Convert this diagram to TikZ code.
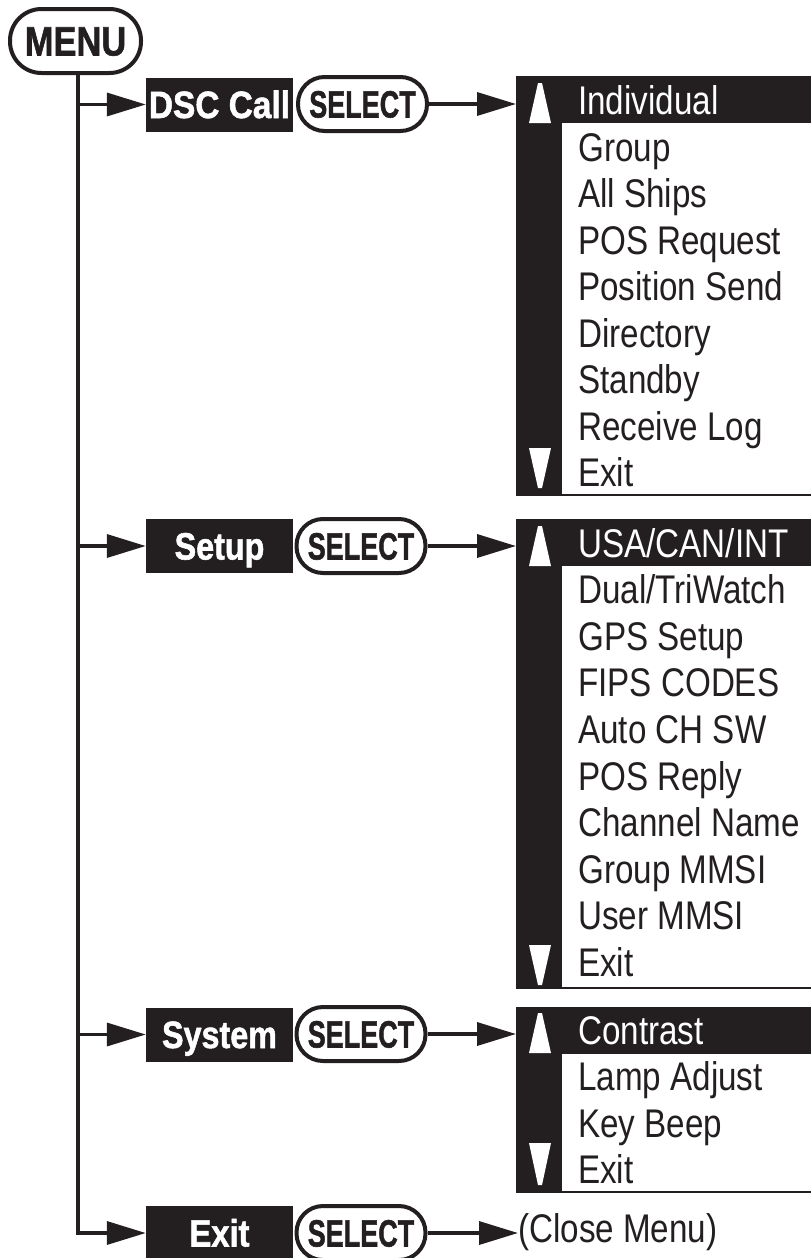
\documentclass[tikz,border=0pt]{standalone}
\usepackage{graphicx}
\usepackage{fontspec}
\setmainfont[FakeStretch=0.83]{Liberation Sans}
\newfontfamily\lblfont[BoldFeatures={FakeBold=1.5}]{Liberation Sans}
\usetikzlibrary{arrows.meta}
\definecolor{ink}{HTML}{231F20}
\begin{document}
\begin{tikzpicture}[x=1pt,y=-1pt,
  conn/.style={draw=ink,line width=3.5pt,-{Triangle[length=39pt,width=23pt]}},
  pill/.style={draw=ink,line width=4pt,fill=white,rounded corners=26.5pt,minimum width=129pt,minimum height=54pt,inner sep=0pt,text=ink,text height=27pt,text depth=0pt,font=\lblfont\bfseries\fontsize{38}{38}\selectfont},
  lbl/.style={fill=ink,text=white,minimum width=147pt,minimum height=54pt,inner sep=0pt,text height=27pt,text depth=0pt,font=\lblfont\bfseries\fontsize{38}{38}\selectfont},
  item/.style={anchor=base west,inner sep=0pt,text=ink,font=\fontsize{40}{40}\selectfont},
  hitem/.style={item,text=white},
  band/.style={fill=ink,inner sep=0pt,anchor=north west,minimum width=295pt,minimum height=47pt},
  col/.style={fill=ink},
  rule/.style={draw=ink,line width=2pt},
  tri/.style={fill=white}
]
\useasboundingbox (0,0) rectangle (811,1258);

% MENU pill
\node[pill,minimum width=131pt,minimum height=64pt,rounded corners=31.5pt,text height=29pt,font=\lblfont\bfseries\fontsize{41}{41}\selectfont] (menu) at (75.5,41) {\scalebox{0.84}[1]{MENU}};
\coordinate (trunk) at ([xshift=2.5pt]menu.south);

% left labels
\node[lbl] (dsclbl) at (219.5,104.5) {\scalebox{0.88}[1]{DSC Call}};
\node[lbl] (setlbl) at (219.5,546) {\scalebox{0.85}[1]{Setup}};
\node[lbl] (syslbl) at (219.5,1034.5) {\scalebox{0.85}[1]{System}};
\node[lbl] (exlbl) at (219.5,1233) {\scalebox{0.86}[1]{Exit}};

% select pills
\node[pill] (dscsel) at (362.5,104) {\scalebox{0.71}[1]{SELECT}};
\node[pill] (setsel) at (361,546) {\scalebox{0.71}[1]{SELECT}};
\node[pill] (syssel) at (361,1034) {\scalebox{0.71}[1]{SELECT}};
\node[pill] (exsel) at (361,1233) {\scalebox{0.71}[1]{SELECT}};

% trunk and branches
\draw[conn,line join=miter] (trunk) -- (trunk |- exlbl.west) -- (exlbl.west);
\draw[conn] (trunk |- dsclbl.west) -- (dsclbl.west);
\draw[conn] (trunk |- setlbl.west) -- (setlbl.west);
\draw[conn] (trunk |- syslbl.west) -- (syslbl.west);

% ---------- DSC list ----------
\fill[col] (516,76) rectangle (562,496);
\node[band] (dscband) at (516,76) {};
\draw[rule] (562,495) -- (811,495);
\fill[tri] (529,123) -- (551,123) -- (542,83) -- (538,83) -- cycle;
\fill[tri] (529,448) -- (551,448) -- (542,488) -- (538,488) -- cycle;
\node[hitem] (d1) at (578,114.5) {Individual};
\foreach \t [count=\i from 1] in {Group,All Ships,POS Request,Position Send,Directory,Standby,Receive Log,Exit}
  \node[item] (d\i b) at (578,114.5+46.5*\i) {\t};

% ---------- Setup list ----------
\fill[col] (516,519) rectangle (562,989);
\node[band] (setband) at (516,519) {};
\draw[rule] (562,988) -- (811,988);
\fill[tri] (529,566) -- (551,566) -- (542,526) -- (538,526) -- cycle;
\fill[tri] (529,945) -- (551,945) -- (542,985) -- (538,985) -- cycle;
\node[hitem] (s1) at (578,557) {USA/CAN/INT};
\foreach \t [count=\i from 1] in {Dual/TriWatch,GPS Setup,FIPS CODES,Auto CH SW,POS Reply,Channel Name,Group MMSI,User MMSI,Exit}
  \node[item] (s\i b) at (578,557+46.6*\i) {\t};

% ---------- System list ----------
\fill[col] (516,1007) rectangle (562,1193);
\node[band] (sysband) at (516,1007) {};
\draw[rule] (562,1192) -- (811,1192);
\fill[tri] (529,1053) -- (551,1053) -- (542,1013) -- (538,1013) -- cycle;
\fill[tri] (529,1143) -- (551,1143) -- (542,1185) -- (538,1185) -- cycle;
\node[hitem] (y1) at (578,1044.5) {Contrast};
\foreach \t [count=\i from 1] in {Lamp Adjust,Key Beep,Exit}
  \node[item] (y\i b) at (578,1044.5+46.3*\i) {\t};

% Close menu
\node[item] (close) at (518,1242) {(Close Menu)};

% select -> lists
\draw[conn] (dscsel.east) -- (dscsel.east -| dscband.west);
\draw[conn] (setsel.east) -- (setsel.east -| setband.west);
\draw[conn] (syssel.east) -- (syssel.east -| sysband.west);
\draw[conn] (exsel.east) -- (exsel.east -| close.west);
\end{tikzpicture}
\end{document}
